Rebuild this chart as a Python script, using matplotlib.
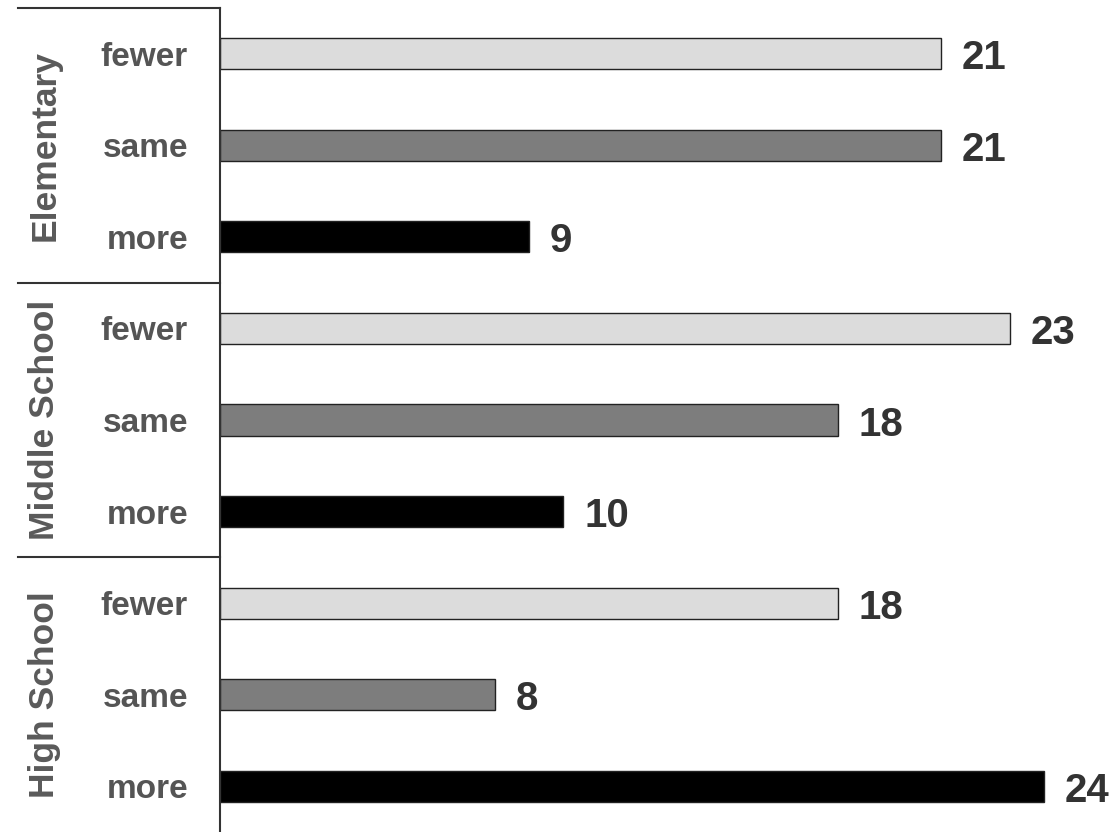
import matplotlib
matplotlib.use("Agg")
import matplotlib.pyplot as plt

groups = ["Elementary", "Middle School", "High School"]
categories = ["fewer", "same", "more"]
values = {
    "Elementary": [21, 21, 9],
    "Middle School": [23, 18, 10],
    "High School": [18, 8, 24],
}
colors = ["#dcdcdc", "#7d7d7d", "#000000"]

plt.rcParams['font.family'] = ['Liberation Sans', 'DejaVu Sans']

W, H = 1120, 832
fig = plt.figure(figsize=(W / 100, H / 100), dpi=100)
ax_left, ax_top = 220, 8
ax = fig.add_axes([ax_left / W, 0, (W - ax_left) / W, (H - ax_top) / H])

px_per_unit = 34.33
row_px = (H - ax_top) / 9.0
ax.set_xlim(0, (W - ax_left) / px_per_unit)
n_rows = len(groups) * len(categories)
ax.set_ylim(n_rows - 0.5, -0.5)

row = 0
for g in groups:
    for c, col, v in zip(categories, colors, values[g]):
        ax.barh(row, v, height=0.34, color=col, edgecolor="#222222", linewidth=1.0)
        ax.text(v + 21 / px_per_unit, row + 15.5 / row_px, str(v), va="baseline", ha="left",
                fontsize=29, fontweight="bold", color="#333333")
        row += 1

ax.set_yticks(range(n_rows))
ax.set_yticklabels(categories * len(groups), fontsize=24, fontweight="bold", color="#555555")
ax.tick_params(axis="y", length=0, pad=23)
ax.set_xticks([])
for s in ["top", "right", "bottom"]:
    ax.spines[s].set_visible(False)
ax.spines["left"].set_color("#333333")
ax.spines["left"].set_linewidth(1.5)

# group separators and labels (in axes-x / data-y blended coordinates)
trans = ax.get_yaxis_transform()
x0 = (18 - ax_left) / (W - ax_left)
for i, g in enumerate(groups):
    top = i * 3 - 0.5
    ax.plot([x0, 0], [top, top], transform=trans, color="#333333", lw=1.5, clip_on=False)
    ax.text((45 - ax_left) / (W - ax_left), i * 3 + 1, g, transform=trans, rotation=90,
            ha="center", va="center", fontsize=25.5, fontweight="bold", color="#5a5a5a")

fig.savefig("out.png", dpi=100)
